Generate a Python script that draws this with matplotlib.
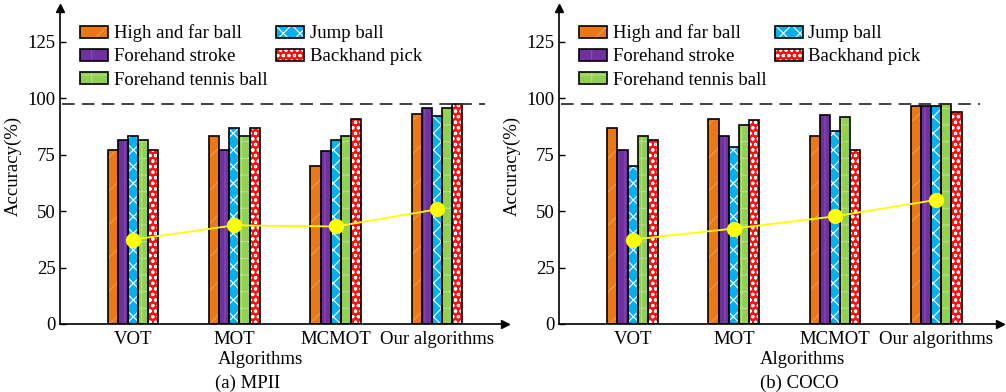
import numpy as np
import matplotlib
matplotlib.use("Agg")
import matplotlib.pyplot as plt
from matplotlib.patches import Patch

plt.rcParams['font.family'] = ['Liberation Serif', 'DejaVu Serif']
plt.rcParams['hatch.linewidth'] = 0.8

algos = ["VOT", "MOT", "MCMOT", "Our algorithms"]
series = ["High and far ball", "Forehand stroke", "Jump ball",
          "Forehand tennis ball", "Backhand pick"]

# MPII
mpii_high = [77, 83.3, 70, 93]
mpii_fore = [81.4, 77, 76.8, 95.7]
mpii_jump = [83.3, 87, 81.4, 92]
mpii_tennis = [81.4, 83.3, 83.3, 95.7]
mpii_back = [77, 87, 91, 97.4]
mpii_line = [37.4, 43.7, 43.2, 50.8]

# COCO
coco_high = [87, 91, 83.3, 96.5]
coco_fore = [77, 83.3, 92.5, 96.5]
coco_jump = [70, 78.6, 85.3, 96.5]
coco_tennis = [83.3, 88, 91.8, 97.4]
coco_back = [81.4, 90.5, 77, 94]
coco_line = [37.4, 42.3, 47.7, 55]

ref_level = 97.6

colors = ["#EC7814", "#7030A0", "#00B0F0", "#92D050", "#FF1010"]
hatch_cols = ["#F29A4C", "#8A4CB8", "#FFFFFF", "#B5DF8C", "#FFFFFF"]
hatches = ["/", "|", "xx", "+", "ooo"]

W, H = 1006, 392
fig = plt.figure(figsize=(W / 100, H / 100), dpi=100)


def px_axes(x0, x1, y0, y1):
    return fig.add_axes([x0 / W, 1 - y1 / H, (x1 - x0) / W, (y1 - y0) / H])


def draw_panel(ax, data, line, xlim):
    x = np.arange(1, len(algos) + 1)
    bw = 0.1
    for i, vals in enumerate(data):
        pos = x + (i - 2) * bw
        ax.bar(pos, vals, bw, color=colors[i], edgecolor=hatch_cols[i],
               linewidth=0, hatch=hatches[i], zorder=2)
        ax.bar(pos, vals, bw, fill=False, edgecolor="black", linewidth=1.2, zorder=3)
    ax.plot(x, line, color="#FFFF00", lw=1.3, marker="o", ms=10, zorder=5)
    ax.plot([xlim[0] + 0.02, xlim[1] - 0.2], [ref_level, ref_level], color="#333333",
            lw=1.3, ls=(0, (7, 4)), zorder=4)
    ax.set_xlim(*xlim)
    ax.set_ylim(0, 140)
    ax.set_yticks([0, 25, 50, 75, 100, 125])
    ax.set_xticks(x)
    ax.set_xticklabels(algos, fontsize=13.5)
    ax.tick_params(axis="x", length=0, pad=5)
    ax.tick_params(axis="y", direction="in", length=4, width=1, labelsize=13.5, pad=3)
    for s in ["top", "right"]:
        ax.spines[s].set_visible(False)
    for s in ["left", "bottom"]:
        ax.spines[s].set_linewidth(1.2)
    ax.plot(1, 0, ">k", transform=ax.transAxes, clip_on=False, ms=6)
    ax.plot(0, 1, "^k", transform=ax.transAxes, clip_on=False, ms=6)
    ax.set_ylabel("Accuracy(%)", fontsize=13.5, labelpad=4)
    order = [0, 1, 3, 2, 4]
    handles = [(Patch(facecolor=colors[i], edgecolor=hatch_cols[i], lw=0, hatch=hatches[i]),
                Patch(fill=False, edgecolor="black", lw=1.2)) for i in order]
    ax.legend(handles, [series[i] for i in order], ncol=2, loc="upper left",
              bbox_to_anchor=(0.045, 0.948), frameon=False, fontsize=13.5,
              borderpad=0, borderaxespad=0,
              handlelength=1.5, handleheight=0.6, labelspacing=0.33,
              columnspacing=0.45, handletextpad=0.3)


mpii = [mpii_high, mpii_fore, mpii_jump, mpii_tennis, mpii_back]
coco = [coco_high, coco_fore, coco_jump, coco_tennis, coco_back]

ax1 = px_axes(60, 505, 8, 324)
draw_panel(ax1, mpii, mpii_line, (0.28, 4.67))
ax2 = px_axes(559, 1000, 8, 324)
draw_panel(ax2, coco, coco_line, (0.273, 4.63))

fig.text(260 / W, 1 - 360 / H, "Algorithms", ha="center", va="center", fontsize=13.5)
fig.text(248 / W, 1 - 383 / H, "(a) MPII", ha="center", va="center", fontsize=13.5)
fig.text(802 / W, 1 - 360 / H, "Algorithms", ha="center", va="center", fontsize=13.5)
fig.text(799 / W, 1 - 383 / H, "(b) COCO", ha="center", va="center", fontsize=13.5)

fig.savefig("out.png", dpi=100)
